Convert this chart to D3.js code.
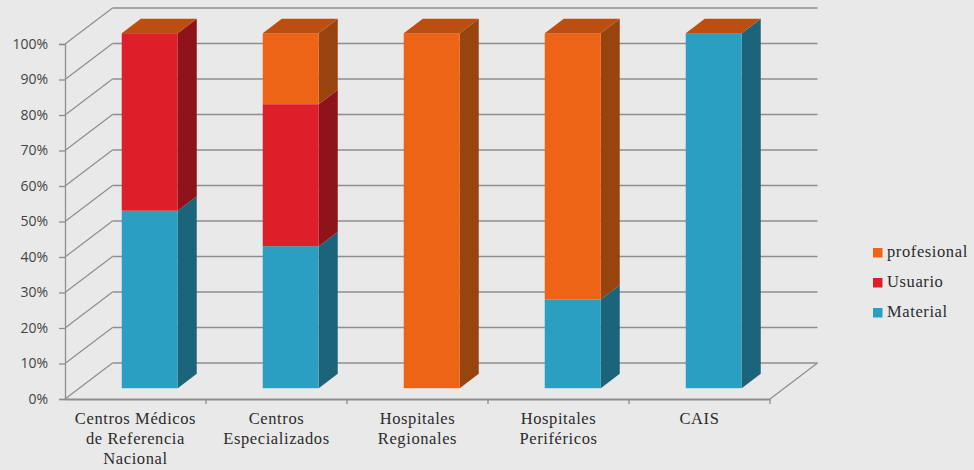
<!DOCTYPE html>
<html>
<head>
<meta charset="utf-8">
<script src="https://cdn.jsdelivr.net/npm/d3@7"></script>
<style>
  html, body { margin: 0; padding: 0; background: #e9e9ea; overflow: hidden; }
  svg { display: block; }
  .ylab text { font-family: "Open Sans", sans-serif; font-size: 14px; fill: #444; }
  .xlab, .leg { font-family: "Liberation Serif", serif; font-size: 16.5px; fill: #2b2b2b; letter-spacing: 0.6px; }
</style>
</head>
<body>
<div class="canvas"></div>
<script>
// data
const categories = ["Centros Médicos de Referencia Nacional", "Centros Especializados", "Hospitales Regionales", "Hospitales Periféricos", "CAIS"];
const categoryLines = [["Centros Médicos", "de Referencia", "Nacional"], ["Centros", "Especializados"], ["Hospitales", "Regionales"], ["Hospitales", "Periféricos"], ["CAIS"]];
const material = [50, 40, 0, 25, 100];
const usuario = [50, 40, 0, 0, 0];
const profesional = [0, 20, 100, 75, 0];
const seriesNames = ["Material", "Usuario", "profesional"];
const yTicks = [0, 10, 20, 30, 40, 50, 60, 70, 80, 90, 100];

// colours per series: front, side
const front = { Material: "#2b9fc1", Usuario: "#dd1f2a", profesional: "#ee6417" };
const side = { Material: "#1c6479", Usuario: "#8e131a", profesional: "#97440f" };
const topColor = "#bc4f10";
const gridColor = "#8e8e8e";

const w = 974;
const h = 470;

// chart plane (front edge of the floor) and the depth of the 3d box
const plot = { left: 65, right: 770, top: 44, bottom: 399 };
const depth = { x: 47.5, y: -36 };
const barStart = 0.3; // where the bar front sits inside the depth
const barEnd = 0.7; // where the bar back sits
const barWidth = 56;

const svg = d3.select(".canvas").append("svg").attr("width", w).attr("height", h);

const x = d3.scaleBand().domain(categories).range([plot.left, plot.right]);
const y = d3.scaleLinear().domain([0, 100]).range([plot.bottom, plot.top]);

// project a point at depth d (0 = front, 1 = back wall)
const px = (v, d) => v + depth.x * d;
const py = (v, d) => v + depth.y * d;
const poly = (pts) => pts.map((p) => p.join(",")).join(" ");

// walls: back wall lines and the diagonal ones on the left wall
const grid = svg.append("g").attr("fill", "none").attr("stroke", gridColor).attr("stroke-width", 1.6);

grid.selectAll(".back")
  .data(yTicks)
  .join("line")
  .attr("x1", px(plot.left, 1))
  .attr("x2", px(plot.right, 1))
  .attr("y1", (d) => py(y(d), 1))
  .attr("y2", (d) => py(y(d), 1));

grid.selectAll(".diag")
  .data(yTicks)
  .join("line")
  .attr("stroke-width", 1.2)
  .attr("x1", plot.left)
  .attr("x2", px(plot.left, 1))
  .attr("y1", (d) => y(d))
  .attr("y2", (d) => py(y(d), 1));

// right edge of the floor
grid.append("line")
  .attr("stroke-width", 1.2)
  .attr("x1", plot.right)
  .attr("y1", plot.bottom)
  .attr("x2", px(plot.right, 1))
  .attr("y2", py(plot.bottom, 1));

// y axis
const yAxis = d3.axisLeft(y).tickValues(yTicks).tickSize(6).tickPadding(11).tickFormat((d) => d + "%");
svg.append("g")
  .attr("class", "ylab")
  .attr("transform", `translate(${plot.left},0)`)
  .call(yAxis)
  .call((g) => g.selectAll("path,line").attr("stroke", gridColor).attr("stroke-width", 1.3));

// x axis, ticks sit between the categories
const xAxis = d3.axisBottom(x).tickSize(0).tickFormat("");
const xg = svg.append("g").attr("transform", `translate(0,${plot.bottom})`).call(xAxis);
xg.select("path").attr("stroke", gridColor).attr("stroke-width", 1.8);
xg.selectAll("line").remove();
xg.selectAll(".sep")
  .data(categories)
  .join("line")
  .attr("x1", (d) => x(d) + x.bandwidth())
  .attr("x2", (d) => x(d) + x.bandwidth())
  .attr("y1", 0)
  .attr("y2", 5)
  .attr("stroke", gridColor)
  .attr("stroke-width", 1.3);

// category labels
svg.selectAll(".xlab")
  .data(categories)
  .join("text")
  .attr("class", "xlab")
  .attr("text-anchor", "middle")
  .attr("y", 424)
  .each(function (d, i) {
    d3.select(this).selectAll("tspan")
      .data(categoryLines[i])
      .join("tspan")
      .attr("x", x(d) + x.bandwidth() / 2)
      .attr("dy", (l, j) => (j ? 20 : 0))
      .text((l) => l);
  });

// stacked bars
const rows = categories.map((c, i) => ({ cat: c, Material: material[i], Usuario: usuario[i], profesional: profesional[i] }));
const stacked = d3.stack().keys(seriesNames)(rows);

const bars = svg.append("g");
stacked.forEach((layer) => {
  const g = bars.append("g");
  layer.forEach((seg) => {
    const cat = seg.data.cat;
    const x0 = x(cat) + x.bandwidth() / 2 + px(0, barStart) - barWidth / 2;
    const x1 = x0 + barWidth;
    const yb = py(y(seg[0]), barStart);
    const yt = py(y(seg[1]), barStart);
    const dx = depth.x * (barEnd - barStart);
    const dy = depth.y * (barEnd - barStart);
    if (seg[1] > seg[0]) {
      g.append("polygon")
        .attr("points", poly([[x1, yb], [x1 + dx, yb + dy], [x1 + dx, yt + dy], [x1, yt]]))
        .attr("fill", side[layer.key]);
      g.append("rect")
        .attr("x", x0)
        .attr("y", yt)
        .attr("width", barWidth)
        .attr("height", yb - yt)
        .attr("fill", front[layer.key]);
    }
    // top face is only visible on the last series, its height is at 100
    if (layer.key === "profesional") {
      g.append("polygon")
        .attr("points", poly([[x0, yt], [x0 + dx, yt + dy], [x1 + dx, yt + dy], [x1, yt]]))
        .attr("fill", topColor);
    }
  });
});

// legend
const legendY = d3.scalePoint().domain(seriesNames).range([313, 253]);
const legend = svg.selectAll(".legrow")
  .data(seriesNames)
  .join("g")
  .attr("transform", (d) => `translate(873,${legendY(d)})`);
legend.append("rect")
  .attr("y", -5)
  .attr("width", 9.5)
  .attr("height", 9.5)
  .attr("fill", (d) => front[d]);
legend.append("text")
  .attr("class", "leg")
  .attr("x", 14)
  .attr("y", 4)
  .text((d) => d);
</script>
</body>
</html>
